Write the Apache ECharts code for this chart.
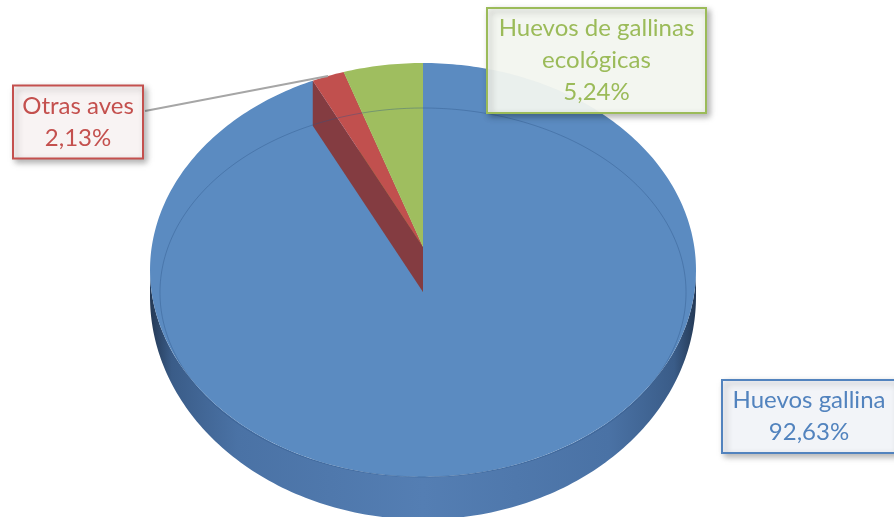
<!DOCTYPE html>
<html>
<head>
<meta charset="utf-8">
<script src="https://cdn.jsdelivr.net/npm/echarts@6/dist/echarts.min.js"></script>
<style>
  html, body { margin: 0; padding: 0; background: #ffffff; }
  #chart { width: 894px; height: 517px; }
</style>
</head>
<body>
<div id="chart"></div>
<script>
// Egg production by type (share of total, %)
const categories = ['Huevos gallina', 'Otras aves', 'Huevos de gallinas ecológicas'];
const shares = [92.63, 2.13, 5.24];

// Slice palette: top face, radial wall, label text / border, label fill
const topColors = ['#5b8bc1', '#c1504e', '#9fbe5f'];
const wallColors = ['#3f6290', '#843c41', '#6f8a3c'];
const labelColors = ['#5283be', '#c4504e', '#9bbb59'];
const labelFills = ['rgba(246,249,253,0.93)', 'rgba(253,248,248,0.93)', 'rgba(248,251,244,0.93)'];

// Label boxes: centre, size, wrap width, optional leader line start
const labelLayout = [
  { x: 809, y: 416.5, w: 174, h: 73, wrap: 200 },
  { x: 78, y: 122, w: 130, h: 73, wrap: 160, leaderFrom: [145, 111] },
  { x: 596.5, y: 60.5, w: 219, h: 105, wrap: 205 }
];
const labelFont = '24px Lato';

// 3D pie geometry: three perspective rings sharing one centre line
const cx = 423, persp = 0.111, radialDepth = 45;
const topRing = { cy: 247, sx: 271.3, sy: 204.4 };     // upper face
const baseRing = { cy: 272, sx: 271.3, sy: 220 };      // lower rim of the side wall
const rimRing = { cy: 272, sx: 261.4, sy: 182.2 };     // faint highlight ring on the face

const total = shares.reduce((a, b) => a + b, 0);
const starts = [];
let acc = 0;
shares.forEach(v => { starts.push(acc / total * 360); acc += v; });

// angle measured clockwise from 12 o'clock
function proj(deg, ring, drop) {
  const a = deg * Math.PI / 180;
  const u = Math.sin(a), v = Math.cos(a), d = 1 + persp * v;
  return [cx + ring.sx * u / d, ring.cy - ring.sy * v / d + (drop || 0)];
}
function arc(a0, a1, ring) {
  const n = Math.max(2, Math.ceil(Math.abs(a1 - a0)));
  const pts = [];
  for (let j = 0; j <= n; j++) pts.push(proj(a0 + (a1 - a0) * j / n, ring));
  return pts;
}
const edgeDeg = Math.acos(-persp) * 180 / Math.PI;   // side wall turns out of view here
const frontFrom = edgeDeg, frontTo = 360 - edgeDeg;

const fmt = v => v.toFixed(2).replace('.', ',') + '%';

const measureCtx = document.createElement('canvas').getContext('2d');
function measure(t) { measureCtx.font = labelFont; return measureCtx.measureText(t).width; }
// break a category name into lines no wider than maxW
function wrapText(str, maxW) {
  const lines = [];
  let cur = '';
  str.split(' ').forEach(w => {
    const t = cur ? cur + ' ' + w : w;
    if (cur && measure(t) > maxW) { lines.push(cur); cur = w; } else { cur = t; }
  });
  if (cur) lines.push(cur);
  return lines.join('\n');
}

function renderItem(params, api) {
  const i = params.dataIndex;
  const value = api.value(0);
  const a0 = starts[i];
  const a1 = a0 + value / total * 360;
  const children = [];

  // outer curved wall (front part only)
  const w0 = Math.max(a0, frontFrom), w1 = Math.min(a1, frontTo);
  if (w1 > w0) {
    const left = proj(frontTo, baseRing)[0], right = proj(frontFrom, baseRing)[0];
    children.push({
      type: 'polygon', z2: 0,
      shape: { points: arc(w0, w1, topRing).concat(arc(w1, w0, baseRing)) },
      style: {
        fill: new echarts.graphic.LinearGradient(left, 0, right, 0, [
          { offset: 0, color: '#243955' },
          { offset: 0.04, color: '#3a5c88' },
          { offset: 0.16, color: '#4a72a5' },
          { offset: 0.5, color: '#547eb3' },
          { offset: 0.84, color: '#4a72a5' },
          { offset: 0.96, color: '#3a5c88' },
          { offset: 1, color: '#243955' }
        ], true)
      }
    });
  }

  // radial wall at the slice's leading edge
  if (i > 0) {
    const p = proj(a0, topRing), q = proj(a0, topRing, radialDepth);
    children.push({
      type: 'polygon', z2: 10 - i,
      shape: { points: [p, [cx, topRing.cy], [cx, topRing.cy + radialDepth], q] },
      style: { fill: wallColors[i] }
    });
  }

  // top face
  children.push({
    type: 'polygon', z2: i === 0 ? 5 : 20 + i,
    shape: { points: [[cx, topRing.cy]].concat(arc(a0, a1, topRing)) },
    style: { fill: topColors[i] }
  });

  // faint highlight ring across the face
  if (i === 0) {
    children.push({
      type: 'polyline', z2: 30, silent: true,
      shape: { points: arc(0, 360, rimRing) },
      style: { stroke: 'rgba(45,85,135,0.38)', lineWidth: 1, fill: null }
    });
  }

  // data label
  const L = labelLayout[i];
  if (L.leaderFrom) {
    const tip = proj((a0 + a1) / 2, topRing);
    children.push({
      type: 'line', z2: 35,
      shape: { x1: L.leaderFrom[0], y1: L.leaderFrom[1], x2: tip[0], y2: tip[1] },
      style: { stroke: '#a6a6a6', lineWidth: 2 }
    });
  }
  children.push({
    type: 'rect', z2: 40,
    shape: { x: L.x - L.w / 2, y: L.y - L.h / 2, width: L.w, height: L.h },
    style: {
      fill: labelFills[i], stroke: labelColors[i], lineWidth: 2,
      shadowBlur: 6, shadowColor: 'rgba(0,0,0,0.3)', shadowOffsetX: 3, shadowOffsetY: 3
    }
  });
  children.push({
    type: 'text', z2: 41,
    style: {
      text: wrapText(categories[i], L.wrap) + '\n' + fmt(value),
      x: L.x, y: L.y, align: 'center', verticalAlign: 'middle',
      font: labelFont, lineHeight: 32, fill: labelColors[i]
    }
  });

  return { type: 'group', children: children };
}

const chart = echarts.init(document.getElementById('chart'), null, { renderer: 'canvas' });
chart.setOption({
  animation: false,
  series: [{
    type: 'custom',
    coordinateSystem: 'none',
    renderItem: renderItem,
    data: shares.map(v => [v])
  }]
});
</script>
</body>
</html>
